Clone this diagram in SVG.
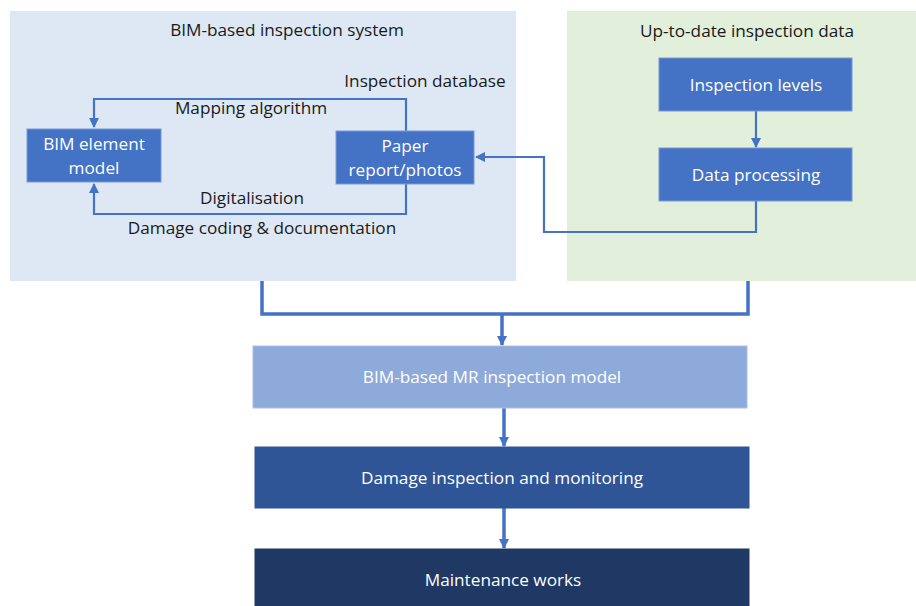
<svg xmlns="http://www.w3.org/2000/svg" width="916" height="606" viewBox="0 0 916 606">
<defs>
<style>
text{font-family:"Open Sans","Liberation Sans",sans-serif;font-size:17.2px;text-anchor:middle}
.lbl{fill:#1a1a1a}
.wt{fill:#ffffff}
.box{fill:#4472c4;stroke:#7a98d6;stroke-width:1}
.con{fill:none;stroke:#4472c4;stroke-width:2.2}
.thick{fill:none;stroke:#4472c4;stroke-width:3.5}
</style>
<marker id="ah" markerWidth="10" markerHeight="10" refX="9" refY="5" orient="auto" markerUnits="userSpaceOnUse">
<path d="M0,0 L10,5 L0,10 z" fill="#4472c4"/>
</marker>
</defs>
<g id="panel-bim">
<rect x="10" y="11" width="506" height="270" fill="#dde8f4"/>
<text class="lbl" x="287" y="36">BIM-based inspection system</text>
</g>
<g id="panel-data">
<rect x="567" y="11" width="349" height="270" fill="#e2efda"/>
<text class="lbl" x="747" y="37">Up-to-date inspection data</text>
</g>
<g id="connectors">
<polyline class="con" points="406,131 406,99 94,99 94,127" marker-end="url(#ah)"/>
<polyline class="con" points="406,184 406,214 94,214 94,184" marker-end="url(#ah)"/>
<polyline class="con" points="756,111 756,147" marker-end="url(#ah)"/>
<polyline class="con" points="756,201 756,232 544,232 544,157 476,157" marker-end="url(#ah)"/>
<polyline class="thick" points="262,281 262,314 748,314 748,281"/>
<line class="thick" x1="502" y1="314" x2="502" y2="345" marker-end="url(#ah)"/>
<line class="thick" x1="504" y1="408" x2="504" y2="446" marker-end="url(#ah)"/>
<line class="thick" x1="504" y1="508" x2="504" y2="548" marker-end="url(#ah)"/>
<text class="lbl" x="425" y="87">Inspection database</text>
<text class="lbl" x="251" y="114">Mapping algorithm</text>
<text class="lbl" x="252" y="204">Digitalisation</text>
<text class="lbl" x="262" y="234">Damage coding &amp; documentation</text>
</g>
<g id="bim-element-model">
<rect class="box" x="27" y="129" width="134" height="53"/>
<text class="wt" x="94" y="150">BIM element</text>
<text class="wt" x="94" y="174">model</text>
</g>
<g id="paper-report">
<rect class="box" x="336" y="131" width="138" height="53"/>
<text class="wt" x="405" y="152">Paper</text>
<text class="wt" x="405" y="176">report/photos</text>
</g>
<g id="inspection-levels">
<rect class="box" x="659" y="58" width="193" height="53"/>
<text class="wt" x="756" y="91">Inspection levels</text>
</g>
<g id="data-processing">
<rect class="box" x="659" y="148" width="193" height="53"/>
<text class="wt" x="756" y="181">Data processing</text>
</g>
<g id="mr-model">
<rect x="253" y="346" width="494" height="62" fill="#8eaadb" stroke="#a9bfe6" stroke-width="1"/>
<text class="wt" x="492" y="383">BIM-based MR inspection model</text>
</g>
<g id="damage-inspection">
<rect x="255" y="447" width="494" height="61" fill="#2f5597" stroke="#2f5597"/>
<text class="wt" x="502" y="484">Damage inspection and monitoring</text>
</g>
<g id="maintenance">
<rect x="255" y="549" width="494" height="57" fill="#203864" stroke="#203864"/>
<text class="wt" x="503" y="586">Maintenance works</text>
</g>
</svg>
